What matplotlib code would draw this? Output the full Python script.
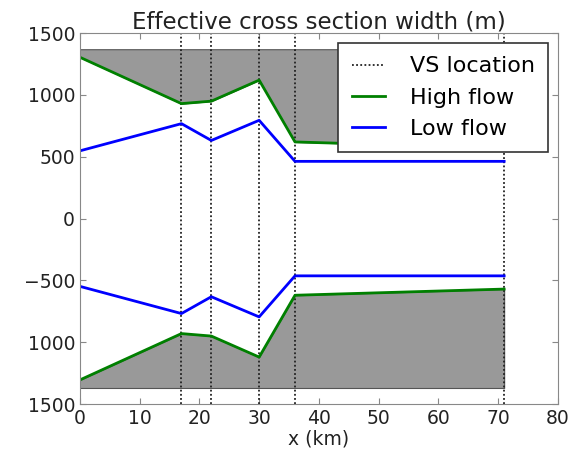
import matplotlib
matplotlib.use("Agg")
import matplotlib.pyplot as plt
import numpy as np

# Data
vs_x = [0, 17, 22, 30, 36, 71]
high_flow = [1305, 930, 950, 1120, 620, 570]
low_flow = [548, 768, 632, 795, 463, 463]
outer_width = 1370
yticks = [1500, 1000, 500, 0, -500, -1000, -1500]
ytick_labels = ["1500", "1000", "500", "0", "\u2212500", "1000", "1500"]
xticks = [0, 10, 20, 30, 40, 50, 60, 70, 80]

fig = plt.figure(figsize=(5.83, 4.54), dpi=100)
ax = fig.add_axes([0.137, 0.110, 0.820, 0.817])

x = np.array(vs_x)
hi = np.array(high_flow)
lo = np.array(low_flow)

ax.fill_between(x, hi, outer_width, facecolor="#999999", edgecolor="#555555", linewidth=0.8)
ax.fill_between(x, -outer_width, -hi, facecolor="#999999", edgecolor="#555555", linewidth=0.8)

for i, xv in enumerate(vs_x):
    ax.axvline(xv, color="#222222", linestyle=(0, (1, 1.3)), linewidth=1.3,
               label="VS location" if i == 0 else None)

ax.plot(x, hi, color="green", linewidth=2, label="High flow")
ax.plot(x, -hi, color="green", linewidth=2)
ax.plot(x, lo, color="blue", linewidth=2, label="Low flow")
ax.plot(x, -lo, color="blue", linewidth=2)

ax.set_xlim(0, 80)
ax.set_ylim(-1500, 1500)
ax.set_xticks(xticks)
ax.set_yticks(yticks)
ax.set_yticklabels(ytick_labels)
ax.tick_params(direction="in", top=True, right=True, labelsize=13.5, length=4, color="#888888",
               labelcolor="#222222")
for s in ax.spines.values():
    s.set_color("#888888")

ax.set_title("Effective cross section width (m)", fontsize=16.5, pad=3, color="#222222")
ax.set_xlabel("x (km)", fontsize=13.5, labelpad=1, color="#222222")

leg = ax.legend(loc="upper right", fontsize=16, fancybox=False, framealpha=1,
                handlelength=1.5, handletextpad=1.1, borderpad=0.6,
                borderaxespad=0.45, labelspacing=0.5)
leg.get_frame().set_edgecolor("#333333")
leg.get_frame().set_linewidth(1.2)

fig.savefig("out.png", dpi=100)
